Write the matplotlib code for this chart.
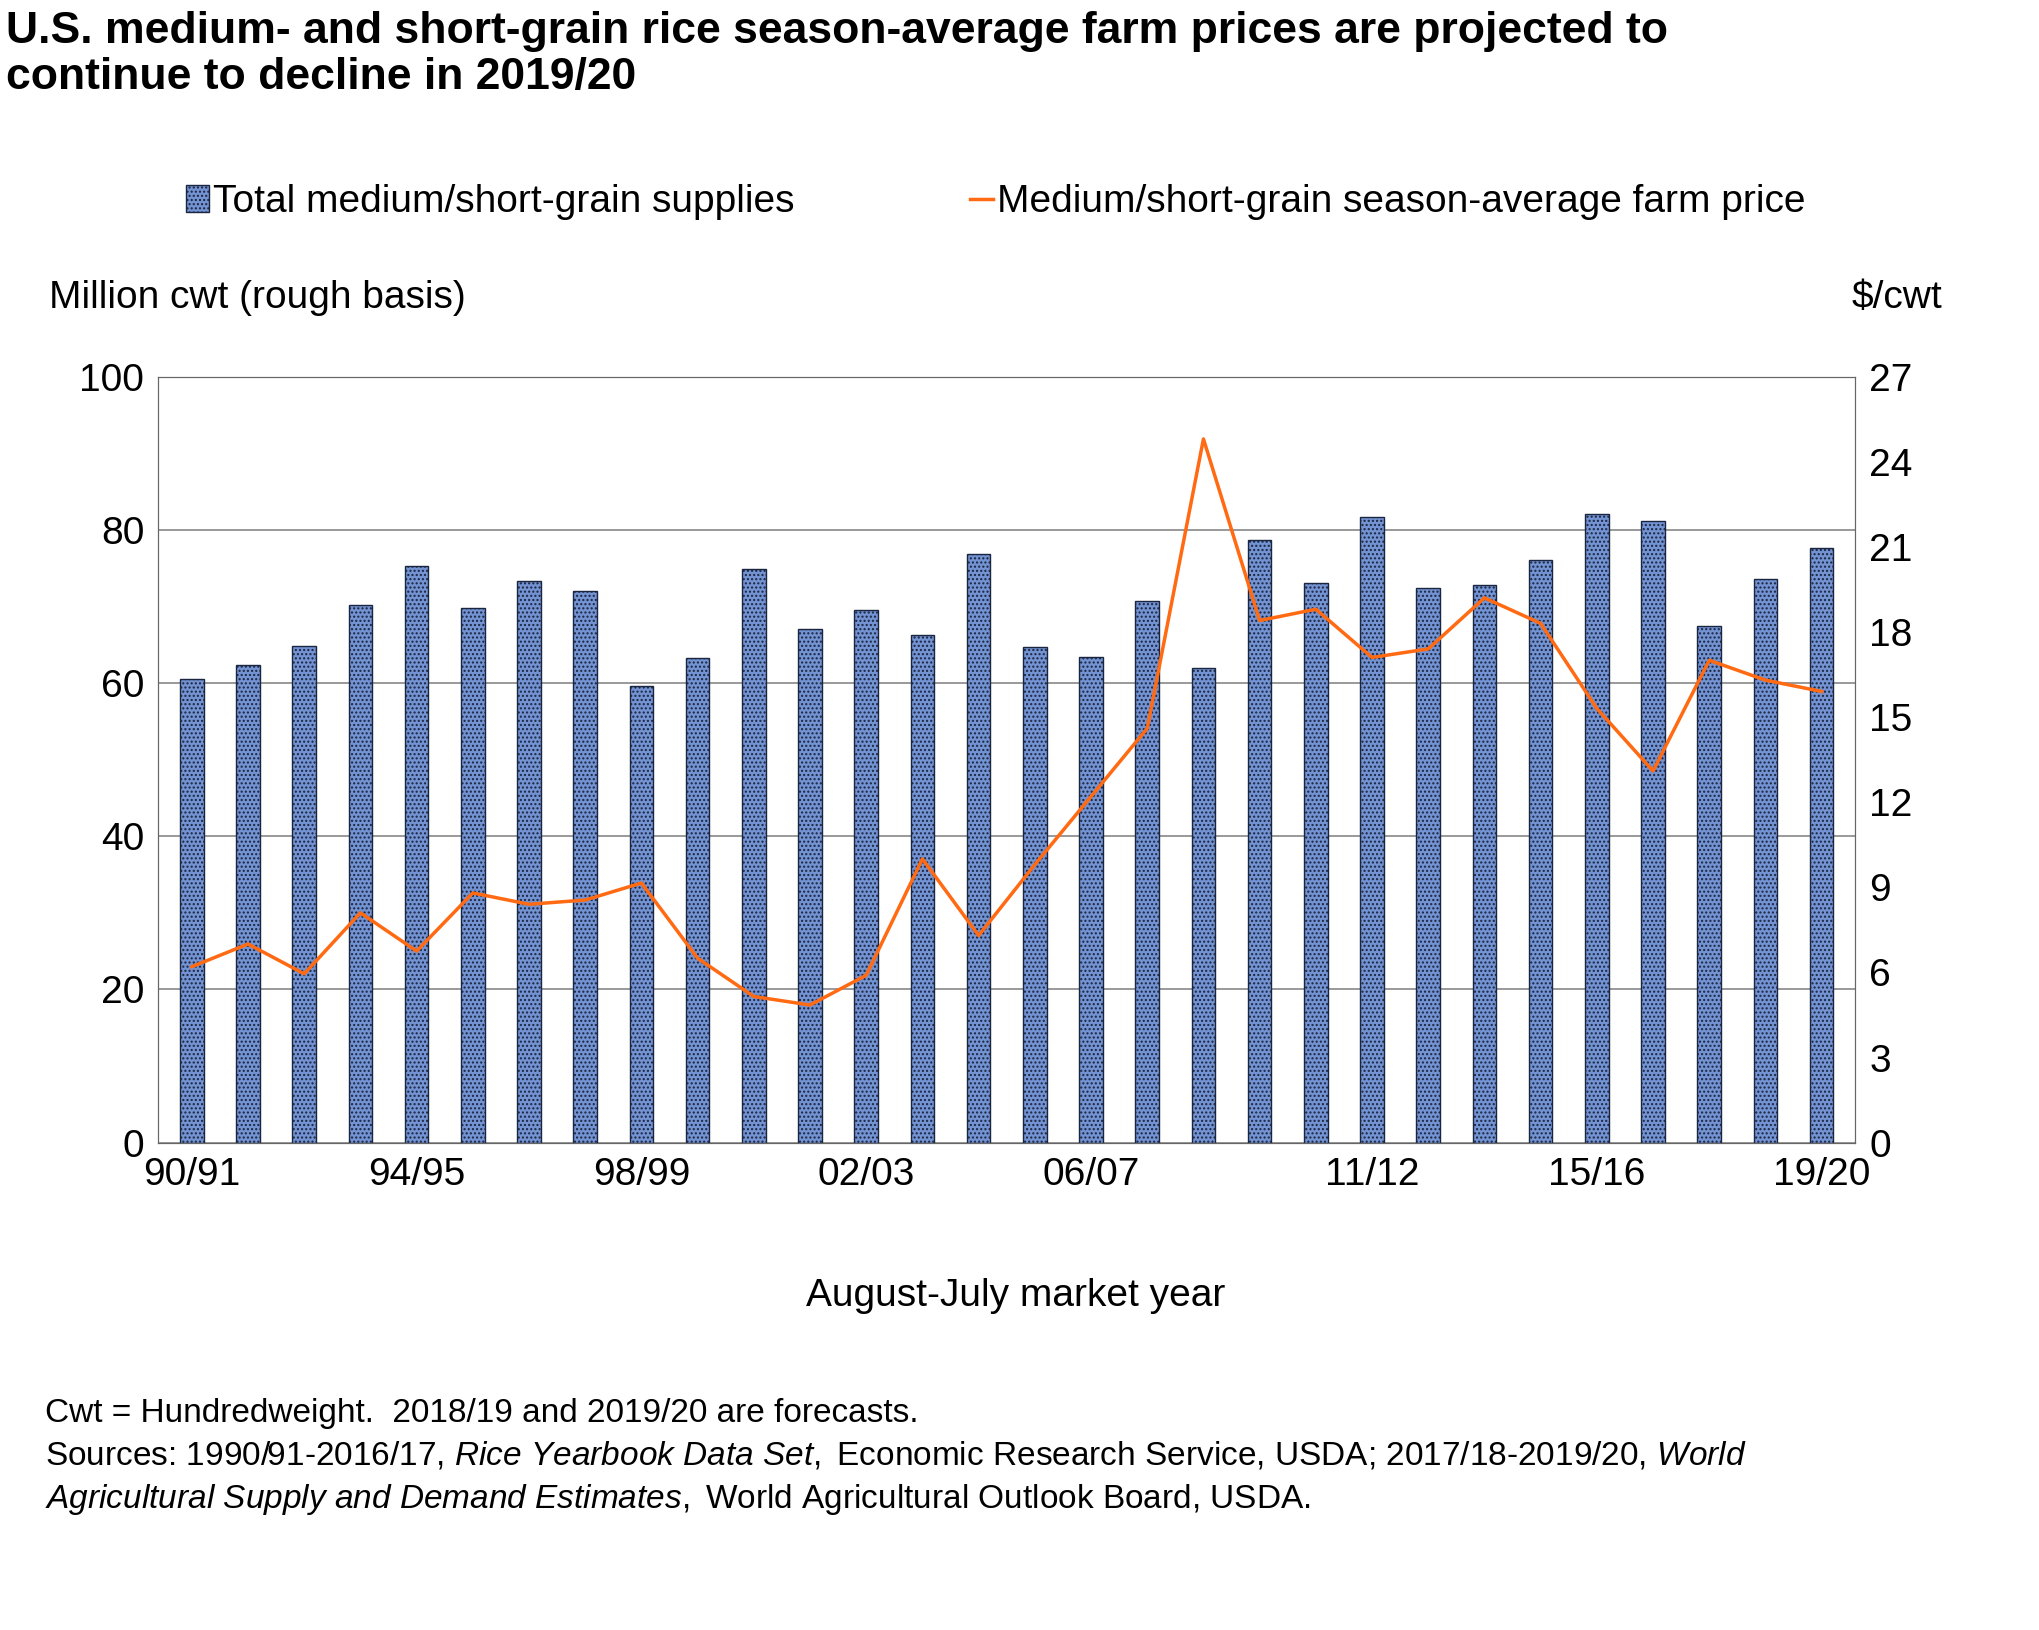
import matplotlib
matplotlib.use("Agg")
import matplotlib.pyplot as plt
import numpy as np

plt.rcParams['font.family'] = ['Liberation Sans', 'DejaVu Sans']
plt.rcParams['mathtext.fontset'] = 'custom'
plt.rcParams['mathtext.rm'] = 'Liberation Sans'
plt.rcParams['mathtext.it'] = 'Liberation Sans:italic'

years = ["90/91","91/92","92/93","93/94","94/95","95/96","96/97","97/98","98/99","99/00",
         "00/01","01/02","02/03","03/04","04/05","05/06","06/07","07/08","08/09","09/10",
         "10/11","11/12","12/13","13/14","14/15","15/16","16/17","17/18","18/19","19/20"]
supplies = [60.5,62.3,64.8,70.2,75.3,69.8,73.3,72.0,59.6,63.2,
            74.9,67.0,69.5,66.2,76.8,64.7,63.4,70.7,61.9,78.7,
            73.0,81.7,72.4,72.8,76.1,82.1,81.1,67.5,73.6,77.6]
price = [6.2,7.0,5.95,8.1,6.75,8.8,8.4,8.55,9.15,6.5,
         5.15,4.85,5.9,10.0,7.3,9.8,12.2,14.6,24.8,18.4,
         18.8,17.1,17.4,19.2,18.3,15.3,13.1,17.0,16.3,15.9]
tick_labels = ["90/91","94/95","98/99","02/03","06/07","11/12","15/16","19/20"]

fig = plt.figure(figsize=(20.4, 16.3), dpi=100)
ax = fig.add_axes([0.0775, 0.299, 0.832, 0.470])
x = np.arange(len(years))
ax.bar(x, supplies, width=0.42, color='#7393d2', edgecolor='#1a2540', linewidth=1.0,
       hatch='....', label='Total medium/short-grain supplies', zorder=2)
ax.set_xlim(-0.6, len(years) - 0.4)
ax.set_ylim(0, 100)
ax.set_yticks(range(0, 101, 20))
ax.yaxis.grid(True, color='#888888', linewidth=1.2, zorder=0)
ax.set_axisbelow(True)
tpos = [years.index(t) for t in tick_labels]
ax.set_xticks(tpos)
ax.set_xticklabels(tick_labels)
ax.tick_params(labelsize=28, length=0, pad=10)
for s in ax.spines.values():
    s.set_color('#666666')

ax2 = ax.twinx()
ax2.plot(x, price, color='#ff6a13', linewidth=2.5, label='Medium/short-grain season-average farm price', zorder=3)
ax2.set_ylim(0, 27)
ax2.set_yticks(range(0, 28, 3))
ax2.tick_params(labelsize=28, length=0, pad=10)
for s in ax2.spines.values():
    s.set_color('#666666')

fig.text(0.003, 0.993, "U.S. medium- and short-grain rice season-average farm prices are projected to\ncontinue to decline in 2019/20",
         fontsize=32, fontweight='bold', va='top', linespacing=1.15)
h1, l1 = ax.get_legend_handles_labels()
h2, l2 = ax2.get_legend_handles_labels()
fig.legend(h1 + h2, l1 + l2, loc='center', bbox_to_anchor=(0.488, 0.876), ncol=2, frameon=False,
           fontsize=28, handlelength=0.6, handletextpad=0.1, columnspacing=4.5)
fig.text(0.024, 0.817, "Million cwt (rough basis)", fontsize=28, va='center')
fig.text(0.952, 0.817, "$/cwt", fontsize=28, va='center', ha='right')
fig.text(0.498, 0.205, "August-July market year", fontsize=28, ha='center', va='center')
fig.text(0.022, 0.133, "Cwt = Hundredweight.  2018/19 and 2019/20 are forecasts.", fontsize=24, va='center')
fig.text(0.022, 0.107, "Sources: 1990/91-2016/17, $\\mathit{Rice\\ Yearbook\\ Data\\ Set,}$ Economic Research Service, USDA; 2017/18-2019/20, $\\mathit{World}$",
         fontsize=24, va='center')
fig.text(0.022, 0.080, "$\\mathit{Agricultural\\ Supply\\ and\\ Demand\\ Estimates,}$ World Agricultural Outlook Board, USDA.",
         fontsize=24, va='center')
fig.savefig("out.png", dpi=100)
